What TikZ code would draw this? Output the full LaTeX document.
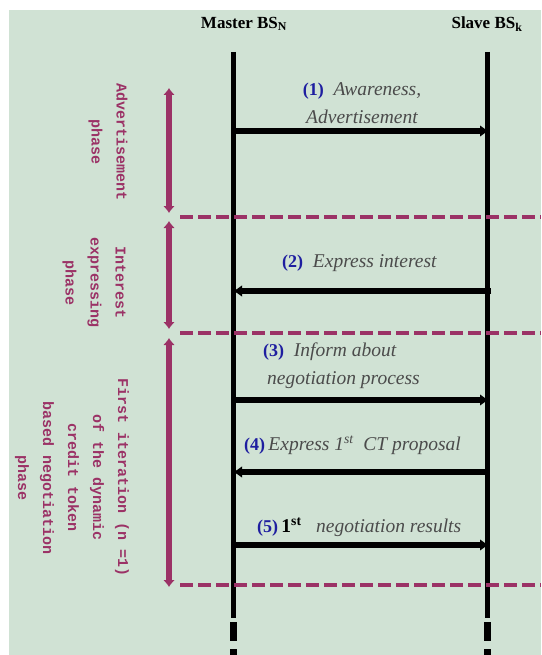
\documentclass[tikz,border=0pt]{standalone}
\usepackage{fontspec}
\setmainfont{Liberation Serif}
\setmonofont{Liberation Mono}
\usetikzlibrary{arrows.meta}
\definecolor{bg}{RGB}{208,226,212}
\definecolor{plum}{RGB}{155,50,102}
\definecolor{numblue}{RGB}{30,30,160}
\definecolor{msggrey}{RGB}{75,75,75}
\newcommand{\msgnum}[1]{\textcolor{numblue}{\fontsize{18}{20}\selectfont\bfseries\upshape(#1)}}
\begin{document}
\begin{tikzpicture}[x=1pt,y=-1pt,
  lifeline/.style={line width=5pt},
  lifedash/.style={line width=7pt,dash pattern=on 19pt off 8pt},
  msg/.style={line width=5.5pt,-{Latex[length=9pt,width=12pt]}},
  phasearrow/.style={plum,line width=5.5pt,{Latex[length=7pt,width=12pt]}-{Latex[length=7pt,width=12pt]}},
  sep/.style={plum,line width=4pt,dash pattern=on 13pt off 5pt},
  hdr/.style={font=\fontsize{17}{20}\selectfont\bfseries,inner sep=0},
  lbl/.style={font=\fontsize{19.5}{28}\selectfont\itshape,text=msggrey,inner sep=0},
  phase/.style={text=plum,font=\fontsize{15}{25}\selectfont\ttfamily\bfseries,align=center,rotate=-90,inner sep=0}]
\useasboundingbox (0,0) rectangle (541,655);
\fill[bg] (9,10) rectangle (541,655);

% headers
\node[hdr] (master) at (244,24) {Master BS\textsubscript{N}};
\node[hdr] (slave) at (487,24) {Slave BS\textsubscript{k}};

% lifeline coordinates
\coordinate (mtop) at (233,52);
\coordinate (mbot) at (233,618);
\coordinate (mdash) at (233,622);
\coordinate (mend) at (233,660);
\coordinate (stop) at (487,52);
\coordinate (sbot) at (487,618);
\coordinate (sdash) at (487,622);
\coordinate (send) at (487,660);

% message labels
\node[lbl,align=center] (l1) at (362,103) {\msgnum{1}\ \ Awareness,\\Advertisement};
\node[lbl,anchor=west] (l2) at (282,263) {\msgnum{2}\ \ Express interest};
\node[lbl,align=left,anchor=north west] (l3) at (263,343) {\msgnum{3}\ \ Inform about\\\hspace*{4pt}negotiation process};
\node[lbl,anchor=west] (l4) at (244,445) {\msgnum{4}\,Express 1\textsuperscript{st}\ \ CT proposal};
\node[lbl,anchor=west] (l5) at (257,527) {\msgnum{5}\,{\upshape\bfseries\color{black}1\textsuperscript{st}}\ \ \ negotiation results};

% lifelines
\draw[lifeline] (mtop) -- (mbot);
\draw[lifeline] (stop) -- (sbot);
\draw[lifedash] (mdash) -- (mend);
\draw[lifedash] (sdash) -- (send);

% messages
\coordinate (m1) at (233,131); \coordinate (s1) at (489,131);
\coordinate (m2) at (233,291); \coordinate (s2) at (491,291);
\coordinate (m3) at (233,400); \coordinate (s3) at (489,400);
\coordinate (m4) at (233,472); \coordinate (s4) at (487,472);
\coordinate (m5) at (233,545); \coordinate (s5) at (489,545);
\draw[msg] (m1) -- (s1);
\draw[msg] (s2) -- (m2);
\draw[msg] (m3) -- (s3);
\draw[msg] (s4) -- (m4);
\draw[msg] (m5) -- (s5);

% phase separators
\coordinate (d1a) at (180,217); \coordinate (d1b) at (541,217);
\coordinate (d2a) at (180,333); \coordinate (d2b) at (541,333);
\coordinate (d3a) at (180,585); \coordinate (d3b) at (541,585);
\draw[sep] (d1a) -- (d1b);
\draw[sep] (d2a) -- (d2b);
\draw[sep] (d3a) -- (d3b);

% phase arrows
\coordinate (p1a) at (169,88);  \coordinate (p1b) at (169,213);
\coordinate (p2a) at (169,221); \coordinate (p2b) at (169,329);
\coordinate (p3a) at (169,338); \coordinate (p3b) at (169,587);
\draw[phasearrow] (p1a) -- (p1b);
\draw[phasearrow] (p2a) -- (p2b);
\draw[phasearrow] (p3a) -- (p3b);

% phase labels
\node[phase] (ph1) at (108,142) {Advertisement\\phase};
\node[phase] (ph2) at (94,283) {Interest\\expressing\\phase};
\node[phase] (ph3) at (72,478) {First iteration (n =1)\\of the dynamic\\credit token\\based negotiation\\phase};
\end{tikzpicture}
\end{document}
